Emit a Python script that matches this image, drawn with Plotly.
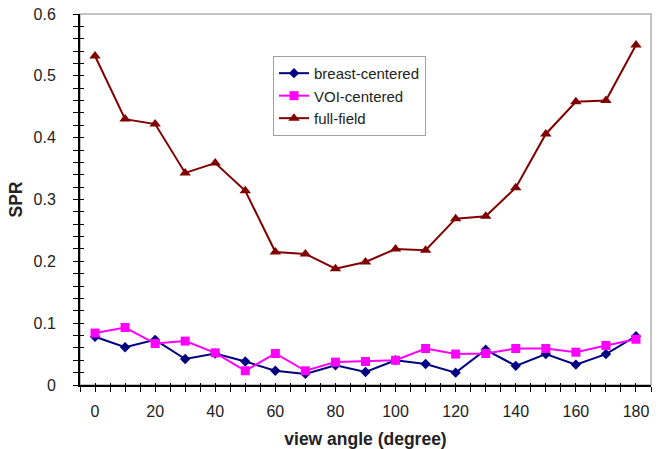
import plotly.graph_objects as go

angles = [0, 10, 20, 30, 40, 50, 60, 70, 80, 90, 100, 110, 120, 130, 140, 150, 160, 170, 180]
breast_centered = [0.078, 0.061, 0.073, 0.042, 0.051, 0.038, 0.023, 0.018, 0.032, 0.021,
                   0.040, 0.034, 0.020, 0.057, 0.031, 0.050, 0.033, 0.050, 0.079]
voi_centered = [0.084, 0.093, 0.067, 0.071, 0.052, 0.023, 0.051, 0.023, 0.037, 0.038,
                0.040, 0.059, 0.050, 0.051, 0.059, 0.059, 0.053, 0.064, 0.074]
full_field = [0.532, 0.430, 0.422, 0.343, 0.359, 0.314, 0.215, 0.212, 0.188, 0.199,
              0.220, 0.218, 0.269, 0.273, 0.319, 0.406, 0.458, 0.460, 0.550]
y_tickvals = [0, 0.1, 0.2, 0.3, 0.4, 0.5, 0.6]
y_ticktext = ["0", "0.1", "0.2", "0.3", "0.4", "0.5", "0.6"]
x_tickvals = [0, 20, 40, 60, 80, 100, 120, 140, 160, 180]

fig = go.Figure()
fig.add_trace(go.Scatter(x=angles, y=breast_centered, name="breast-centered", mode="lines+markers",
                         line=dict(color="#000080", width=2),
                         marker=dict(symbol="diamond", size=8, color="#000080")))
fig.add_trace(go.Scatter(x=angles, y=voi_centered, name="VOI-centered", mode="lines+markers",
                         line=dict(color="#FF00FF", width=2),
                         marker=dict(symbol="square", size=9, color="#FF00FF")))
fig.add_trace(go.Scatter(x=angles, y=full_field, name="full-field", mode="lines+markers",
                         line=dict(color="#800000", width=2),
                         marker=dict(symbol="triangle-up", size=10, color="#800000")))
# invisible trace to enable overlay axes (for cross tick marks)
fig.add_trace(go.Scatter(x=[angles[0]], y=[full_field[0]], xaxis="x2", yaxis="y2",
                         mode="markers", marker=dict(opacity=0), showlegend=False, hoverinfo="skip"))

font = "Arial, Liberation Sans, sans-serif"
xr = [-5, 185]
yr = [0, 0.6]
txt = "#222222"

fig.update_layout(
    width=662, height=449,
    margin=dict(l=80, r=11, t=14, b=64),
    paper_bgcolor="white", plot_bgcolor="white",
    font=dict(family=font, size=16, color=txt),
    showlegend=True,
    legend=dict(x=0.338, y=0.887, xanchor="left", yanchor="top",
                bgcolor="white", bordercolor="#a0a0a0", borderwidth=1,
                font=dict(family=font, size=15, color=txt),
                tracegroupgap=0, itemwidth=30),
    xaxis=dict(range=xr, tickmode="array", tickvals=x_tickvals, automargin=False,
               showgrid=False, zeroline=False, showline=True, linecolor="black", linewidth=2,
               ticks="outside", ticklen=5, tickwidth=1, tickcolor="black",
               minor=dict(tickmode="linear", tick0=-5, dtick=5, ticks="outside", ticklen=5,
                          tickcolor="black", showgrid=False),
               ticklabelstandoff=6,
               title=dict(text="<b>view angle (degree)</b>", font=dict(size=17.5, color=txt)),
               tickfont=dict(size=16, color=txt)),
    yaxis=dict(range=yr, tickmode="array", tickvals=y_tickvals, ticktext=y_ticktext, automargin="left",
               showgrid=False, zeroline=False, showline=True, linecolor="black", linewidth=2,
               ticks="outside", ticklen=5, tickwidth=1, tickcolor="black",
               minor=dict(tickmode="linear", tick0=0, dtick=0.02, ticks="outside", ticklen=5,
                          tickcolor="black", showgrid=False),
               ticklabelstandoff=14,
               title=dict(text="<b>SPR</b>", font=dict(size=17.5, color=txt), standoff=6),
               tickfont=dict(size=16, color=txt)),
    xaxis2=dict(range=xr, overlaying="x", anchor="y2", showgrid=False, zeroline=False,
                showticklabels=False, showline=False, automargin=False,
                tickmode="linear", tick0=-5, dtick=5, ticks="inside", ticklen=2, tickcolor="black"),
    yaxis2=dict(range=yr, overlaying="y", anchor="x2", showgrid=False, zeroline=False,
                showticklabels=False, showline=False, automargin=False,
                tickmode="linear", tick0=0, dtick=0.02, ticks="inside", ticklen=4, tickcolor="black"),
    shapes=[dict(type="rect", xref="paper", yref="paper", x0=0, y0=0, x1=1, y1=1,
                 line=dict(color="#b0b0b0", width=1.5), layer="below")],
)

fig.write_html("out.html")
